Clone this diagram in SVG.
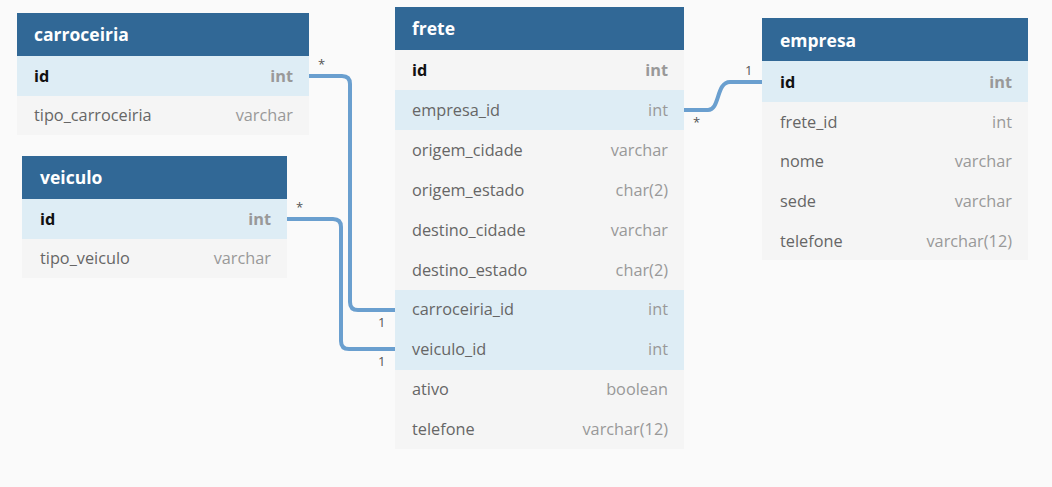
<svg xmlns="http://www.w3.org/2000/svg" width="1052" height="487" viewBox="0 0 1052 487">
<style>
.hd{fill:#316896}
.rw{fill:#f5f5f5}
.hl{fill:#deedf5}
.ht{font-family:"Open Sans",sans-serif;font-size:17.5px;font-weight:bold;fill:#fff}
.fn{font-family:"Open Sans",sans-serif;font-size:16.3px;fill:#666}
.pk{font-family:"Open Sans",sans-serif;font-size:16.3px;font-weight:bold;fill:#111}
.ty{font-family:"Open Sans",sans-serif;font-size:16.3px;fill:#999;text-anchor:end}
.tb{font-family:"Open Sans",sans-serif;font-size:16.3px;font-weight:bold;fill:#999;text-anchor:end}
.cn{fill:none;stroke:#6a9fcf;stroke-width:4}
.lb{font-family:"Open Sans",sans-serif;font-size:13px;fill:#555}
</style>
<rect width="1052" height="487" fill="#fafafa"/>
<g id="connectors">
<path class="cn" d="M309,76 H342 Q350,76 350,84 V302 Q350,310 358,310 H395"/>
<path class="cn" d="M287,219 H333 Q341,219 341,227 V341 Q341,349 349,349 H395"/>
<path class="cn" d="M684,110 H708 C720,110 716,82 730,82 H762"/>
<text class="lb" x="318" y="69">*</text>
<text class="lb" x="378" y="327">1</text>
<text class="lb" x="296" y="212">*</text>
<text class="lb" x="378" y="366">1</text>
<text class="lb" x="693" y="127">*</text>
<text class="lb" x="745" y="75">1</text>
</g>
<g id="carroceiria">
<rect class="hd" x="17" y="13" width="292" height="43"/>
<rect class="hl" x="17" y="56" width="292" height="40"/>
<rect class="rw" x="17" y="96" width="292" height="39"/>
<text class="ht" x="34" y="41">carroceiria</text>
<text class="pk" x="34" y="82">id</text><text class="tb" x="293" y="82">int</text>
<text class="fn" x="34" y="121">tipo_carroceiria</text><text class="ty" x="293" y="121">varchar</text>
</g>
<g id="veiculo">
<rect class="hd" x="22" y="156" width="265" height="43"/>
<rect class="hl" x="22" y="199" width="265" height="40"/>
<rect class="rw" x="22" y="239" width="265" height="39"/>
<text class="ht" x="40" y="184">veiculo</text>
<text class="pk" x="40" y="225">id</text><text class="tb" x="271" y="225">int</text>
<text class="fn" x="40" y="264">tipo_veiculo</text><text class="ty" x="271" y="264">varchar</text>
</g>
<g id="frete">
<rect class="hd" x="395" y="7" width="289" height="43"/>
<rect class="rw" x="395" y="50" width="289" height="399"/>
<rect class="hl" x="395" y="90" width="289" height="40"/>
<rect class="hl" x="395" y="290" width="289" height="80"/>
<text class="ht" x="412" y="35">frete</text>
<text class="pk" x="412" y="76">id</text><text class="tb" x="668" y="76">int</text>
<text class="fn" x="412" y="116">empresa_id</text><text class="ty" x="668" y="116">int</text>
<text class="fn" x="412" y="156">origem_cidade</text><text class="ty" x="668" y="156">varchar</text>
<text class="fn" x="412" y="196">origem_estado</text><text class="ty" x="668" y="196">char(2)</text>
<text class="fn" x="412" y="236">destino_cidade</text><text class="ty" x="668" y="236">varchar</text>
<text class="fn" x="412" y="276">destino_estado</text><text class="ty" x="668" y="276">char(2)</text>
<text class="fn" x="412" y="315">carroceiria_id</text><text class="ty" x="668" y="315">int</text>
<text class="fn" x="412" y="355">veiculo_id</text><text class="ty" x="668" y="355">int</text>
<text class="fn" x="412" y="395">ativo</text><text class="ty" x="668" y="395">boolean</text>
<text class="fn" x="412" y="435">telefone</text><text class="ty" x="668" y="435">varchar(12)</text>
</g>
<g id="empresa">
<rect class="hd" x="762" y="18" width="266" height="43"/>
<rect class="rw" x="762" y="61" width="266" height="199"/>
<rect class="hl" x="762" y="61" width="266" height="41"/>
<text class="ht" x="780" y="47">empresa</text>
<text class="pk" x="780" y="88">id</text><text class="tb" x="1012" y="88">int</text>
<text class="fn" x="780" y="128">frete_id</text><text class="ty" x="1012" y="128">int</text>
<text class="fn" x="780" y="167">nome</text><text class="ty" x="1012" y="167">varchar</text>
<text class="fn" x="780" y="207">sede</text><text class="ty" x="1012" y="207">varchar</text>
<text class="fn" x="780" y="247">telefone</text><text class="ty" x="1012" y="247">varchar(12)</text>
</g>
</svg>
